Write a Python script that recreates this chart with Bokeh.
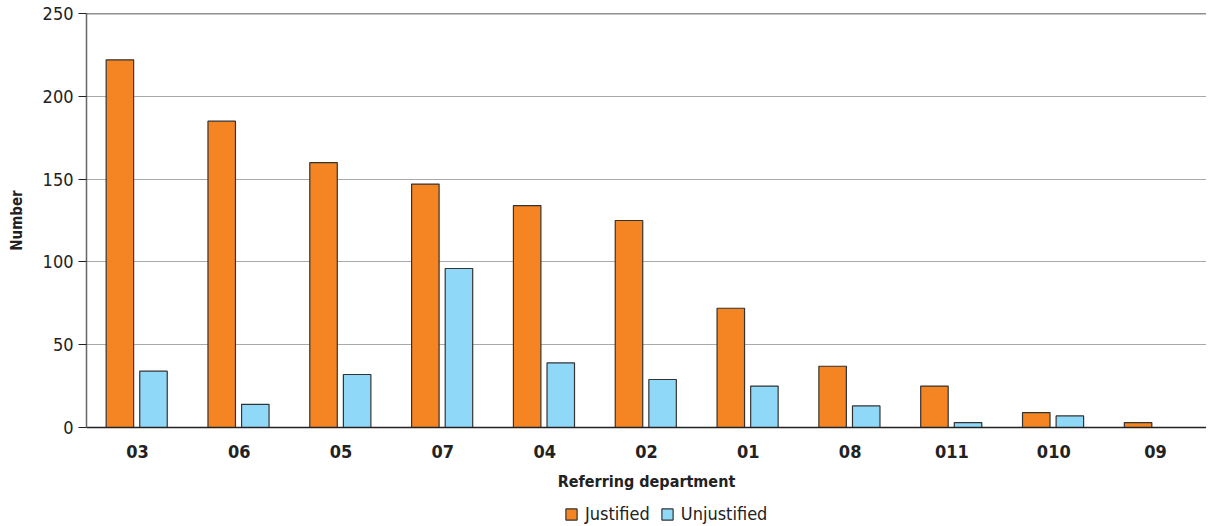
from bokeh.plotting import figure
from bokeh.models import ColumnDataSource, FactorRange, Range1d, Span, Legend, LegendItem, FixedTicker
from bokeh.layouts import column
from bokeh.transform import dodge
from bokeh.embed import file_html
from bokeh.resources import INLINE

departments = ["03", "06", "05", "07", "04", "02", "01", "08", "011", "010", "09"]
justified = [222, 185, 160, 147, 134, 125, 72, 37, 25, 9, 3]
unjustified = [34, 14, 32, 96, 39, 29, 25, 13, 3, 7, 0]
series_names = ["Justified", "Unjustified"]
series_colors = ["#F58423", "#8FD8F8"]

FONT = "'DejaVu Sans Condensed', 'Roboto', sans-serif"
W = 1206

src = ColumnDataSource(dict(dept=departments, j=justified, u=unjustified))

p = figure(width=W, height=495, x_range=FactorRange(*departments, range_padding=0),
           y_range=Range1d(0, 250), output_backend="svg", toolbar_location=None,
           min_border_left=86, min_border_right=0, min_border_top=13, min_border_bottom=68)
p.outline_line_color = None
p.background_fill_color = "white"

p.vbar(x=dodge("dept", -0.172, range=p.x_range), top="j", width=0.27, source=src,
       fill_color=series_colors[0], line_color="#333333", line_width=1.2)
p.vbar(x=dodge("dept", 0.158, range=p.x_range), top="u", width=0.27, source=src,
       fill_color=series_colors[1], line_color="#333333", line_width=1.2)

p.xgrid.grid_line_color = None
p.ygrid.grid_line_color = "#AAAAAA"
p.ygrid.grid_line_width = 1
p.add_layout(Span(location=250, dimension="width", line_color="#222222", line_width=1.3))

p.yaxis.ticker = FixedTicker(ticks=[0, 50, 100, 150, 200, 250])
p.yaxis.axis_line_color = "#666666"
p.yaxis.axis_line_width = 1.5
p.yaxis.major_tick_out = 8
p.yaxis.major_tick_in = 0
p.yaxis.major_tick_line_color = "#222222"
p.yaxis.minor_tick_line_color = None
p.yaxis.major_label_text_font = FONT
p.yaxis.major_label_text_font_size = "18px"
p.yaxis.major_label_text_color = "#222222"
p.yaxis.axis_label = "Number"
p.yaxis.axis_label_text_font = FONT
p.yaxis.axis_label_text_font_style = "bold"
p.yaxis.axis_label_text_font_size = "15px"
p.yaxis.axis_label_text_color = "#222222"
p.yaxis.axis_label_standoff = 14

p.xaxis.axis_line_color = "#222222"
p.xaxis.axis_line_width = 1.5
p.xaxis.major_tick_line_color = None
p.xaxis.minor_tick_line_color = None
p.xaxis.major_label_text_font = FONT
p.xaxis.major_label_text_font_style = "bold"
p.xaxis.major_label_text_font_size = "18px"
p.xaxis.major_label_text_color = "#222222"
p.xaxis.major_label_standoff = 11
p.xaxis.axis_label = "Referring department"
p.xaxis.axis_label_text_font = FONT
p.xaxis.axis_label_text_font_style = "bold"
p.xaxis.axis_label_text_font_size = "16px"
p.xaxis.axis_label_text_color = "#222222"
p.xaxis.axis_label_standoff = 11

# legend strip (its frame is aligned with the main plot's frame by the column layout)
lf = figure(width=W, height=31, x_range=Range1d(0, 1), y_range=Range1d(0, 1),
            output_backend="svg", toolbar_location=None,
            x_axis_location=None, y_axis_location=None,
            min_border=0, min_border_left=0, min_border_right=0, min_border_top=0, min_border_bottom=0)
lf.grid.visible = False
lf.outline_line_color = None
items = []
for name, col in zip(series_names, series_colors):
    r = lf.vbar(x=[-10], top=[-10], bottom=[-11], width=0.1, fill_color=col,
                line_color="#333333", line_width=1.2)
    items.append(LegendItem(label=name, renderers=[r]))
legend = Legend(items=items, orientation="horizontal", location=(478, 2),
                label_text_font=FONT, label_text_font_size="18px", label_text_color="#222222",
                glyph_width=14, glyph_height=14, spacing=10, padding=0, margin=0,
                border_line_color=None, background_fill_alpha=0, label_standoff=7)
lf.add_layout(legend, "center")

open("out.html", "w").write(file_html(column(p, lf), INLINE))
